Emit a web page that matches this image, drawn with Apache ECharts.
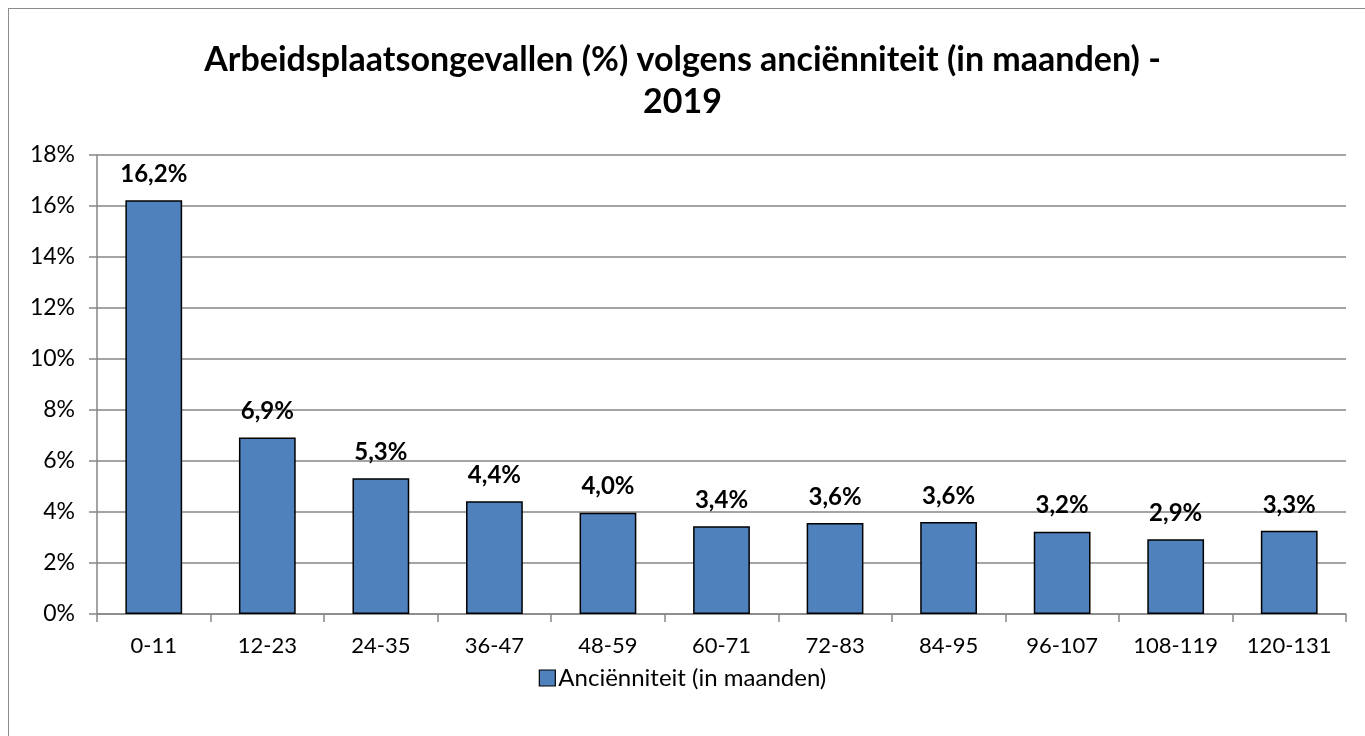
<!DOCTYPE html>
<html>
<head>
<meta charset="utf-8">
<script src="https://cdn.jsdelivr.net/npm/echarts@6/dist/echarts.min.js"></script>
<style>
html,body{margin:0;padding:0;background:#fff;}
#frame{position:absolute;left:8px;top:8px;width:1400px;height:800px;border:1.5px solid #8c8c8c;box-sizing:border-box;}
#chart{position:absolute;left:0;top:0;width:1365px;height:736px;}
</style>
</head>
<body>
<div id="frame"></div>
<div id="chart"></div>
<script>
const categories = ['0-11','12-23','24-35','36-47','48-59','60-71','72-83','84-95','96-107','108-119','120-131'];
const values = [16.23, 6.92, 5.32, 4.42, 3.97, 3.44, 3.57, 3.61, 3.23, 2.93, 3.26];
const seriesName = 'Anciënniteit (in maanden)';
const titleText = 'Arbeidsplaatsongevallen (%) volgens anciënniteit (in maanden) -\n2019';
const yTicks = {min: 0, max: 18, interval: 2};

const chart = echarts.init(document.getElementById('chart'), null, {renderer: 'canvas'});
const font = 'Lato, "Open Sans", sans-serif';
chart.setOption({
  animation: false,
  backgroundColor: 'transparent',
  title: {
    text: titleText,
    left: 'center',
    top: 39,
    padding: 0,
    textStyle: {fontFamily: font, fontWeight: 'bold', fontSize: 34, color: '#000', lineHeight: 42}
  },
  legend: {
    bottom: 41,
    left: 'center',
    itemWidth: 16,
    itemHeight: 16,
    itemGap: 4,
    icon: 'rect',
    textStyle: {fontFamily: font, fontSize: 24, color: '#000', padding: [0,0,0,-2]},
    data: [{name: seriesName, itemStyle: {color: '#4F81BD', borderColor: '#000', borderWidth: 1.2}}]
  },
  grid: {left: 97, right: 19, top: 155, bottom: 122, containLabel: false},
  xAxis: {
    type: 'category',
    data: categories,
    axisLine: {lineStyle: {color: '#868686', width: 1.5}},
    axisTick: {show: true, length: 8, lineStyle: {color: '#868686', width: 1.5}},
    axisLabel: {fontFamily: font, fontSize: 22, color: '#000', margin: 21, interval: 0}
  },
  yAxis: {
    type: 'value',
    min: yTicks.min, max: yTicks.max, interval: yTicks.interval,
    axisLine: {show: true, lineStyle: {color: '#868686', width: 1.5}},
    axisTick: {show: true, length: 8, lineStyle: {color: '#868686', width: 1.5}},
    axisLabel: {fontFamily: font, fontSize: 23, color: '#000', margin: 22, formatter: v => v + '%'},
    splitLine: {lineStyle: {color: '#868686', width: 1.5}}
  },
  series: [{
    name: seriesName,
    type: 'bar',
    data: values,
    barWidth: '50%',
    itemStyle: {color: '#4F81BD', borderColor: '#000', borderWidth: 1.5},
    label: {
      show: true,
      position: 'top',
      distance: 14,
      fontFamily: font,
      fontWeight: 'bold',
      fontSize: 24,
      color: '#000',
      formatter: p => p.value.toFixed(1).replace('.', ',') + '%'
    }
  }]
});
</script>
</body>
</html>
